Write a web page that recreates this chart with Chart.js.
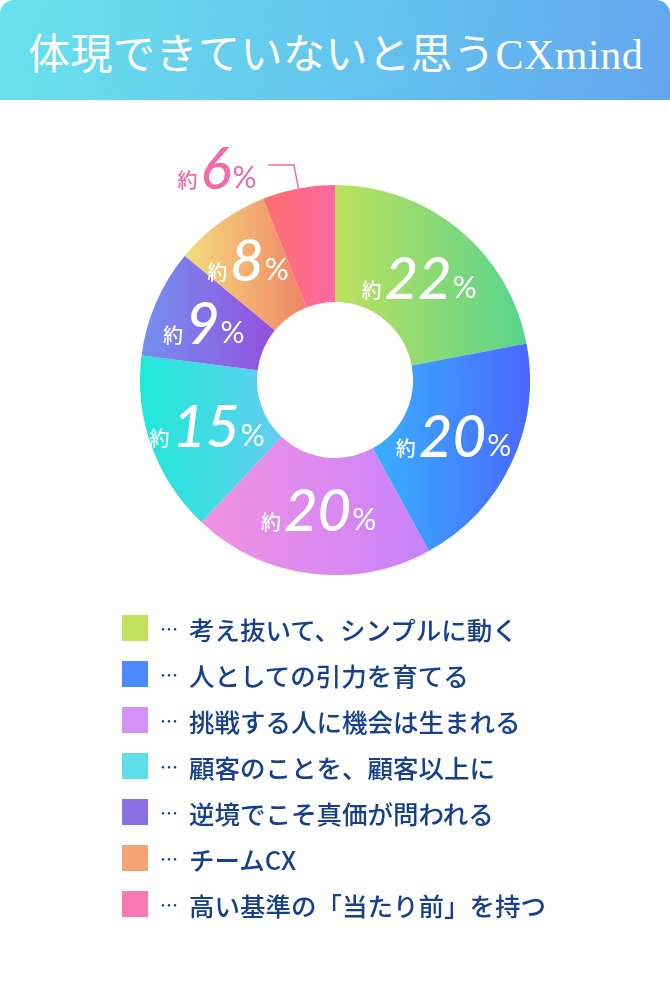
<!DOCTYPE html>
<html lang="ja">
<head>
<meta charset="utf-8">
<script src="https://cdn.jsdelivr.net/npm/chart.js@4.4.0/dist/chart.umd.min.js"></script>
<style>
  html, body { margin: 0; padding: 0; background: #fff; }
  body { width: 670px; height: 982px; position: relative; overflow: hidden; }
  .head {
    position: absolute; left: 0; top: 0; width: 670px; height: 100px;
    border-radius: 14px 14px 0 0;
    background: linear-gradient(100deg, #68e2ec 0%, #64c6ee 50%, #62a6ef 100%);
  }
  .head h1 {
    margin: 0; position: absolute; left: 28px; top: 30px;
    font-family: "Liberation Serif", "Noto Sans CJK JP", serif;
    font-weight: 400; font-size: 42px; line-height: 50px; color: #fff;
    letter-spacing: 0.5px;
  }
  #wrap { position: absolute; left: 0; top: 130px; width: 670px; height: 500px; }
  #legend { position: absolute; left: 122px; top: 605px; margin: 0; padding: 0; list-style: none; }
  #legend li {
    height: 46px; display: flex; align-items: center;
    font-family: "Noto Sans CJK JP", sans-serif; font-weight: 500;
    font-size: 25.5px; color: #17408b; white-space: nowrap;
  }
  #legend i { display: inline-block; width: 26px; height: 26px; margin-right: 12px; }
  #legend .dots { font-size: 18px; margin-right: 10px; letter-spacing: 1px; }
</style>
</head>
<body>
<div class="head"><h1>体現できていないと思うCXmind</h1></div>
<div id="wrap"><canvas id="myChart"></canvas></div>
<ul id="legend"></ul>
<script>
// データ
var categories = ["考え抜いて、シンプルに動く", "人としての引力を育てる", "挑戦する人に機会は生まれる",
                  "顧客のことを、顧客以上に", "逆境でこそ真価が問われる", "チームCX", "高い基準の「当たり前」を持つ"];
var values = [22, 20, 20, 15, 9, 8, 6];
var legendColors = ["#c3e05a", "#4d8aff", "#d492f6", "#5fdde8", "#8870e2", "#f5a274", "#f879b2"];
var gradFrom = ["#bde05e", "#38b0ff", "#f292e2", "#1ee9d8", "#7490f0", "#f6dc7c", "#ff6f6c"];
var gradTo   = ["#58d48c", "#4a68ff", "#c882fb", "#64cdf0", "#9450de", "#ef8466", "#fc68a2"];
var outsideColor = "#f26aa8";

// ラベルの中心半径（内径からの距離）
var labelOffset = [54, 53, 53, 58, 65, 70];

var total = values.reduce(function(a, b) { return a + b; }, 0);

// 横方向グラデーション
function sliceGradient(c) {
  var chart = c.chart, area = chart.chartArea, i = c.dataIndex;
  if (!area) return legendColors[i];
  var cx = (area.left + area.right) / 2, cy = (area.top + area.bottom) / 2;
  var r = Math.min(area.right - area.left, area.bottom - area.top) / 2, rin = r * 0.4;
  var before = 0;
  for (var k = 0; k < i; k++) before += values[k];
  var a0 = -Math.PI / 2 + before / total * 2 * Math.PI;
  var a1 = a0 + values[i] / total * 2 * Math.PI;
  var minX = Infinity, maxX = -Infinity;
  for (var s = 0; s <= 40; s++) {
    var a = a0 + (a1 - a0) * s / 40;
    [r, rin].forEach(function(rr) {
      var x = cx + rr * Math.cos(a);
      if (x < minX) minX = x;
      if (x > maxX) maxX = x;
    });
  }
  var g = chart.ctx.createLinearGradient(minX, cy, maxX, cy);
  g.addColorStop(0, gradFrom[i]);
  g.addColorStop(1, gradTo[i]);
  return g;
}

function drawLabel(ctx, value, cx, cy, color) {
  var f1 = '500 20px "Noto Sans CJK JP"', f2 = 'italic 500 58px Lato', f3 = '400 30px Lato';
  ctx.font = f1; var w1 = ctx.measureText("約").width;
  ctx.font = f2; var w2 = ctx.measureText(String(value)).width;
  ctx.font = f3; var w3 = ctx.measureText("%").width;
  var x = cx - (w1 + 3 + w2 + 1 + w3) / 2, base = cy + 21;
  ctx.fillStyle = color;
  ctx.textAlign = "left"; ctx.textBaseline = "alphabetic";
  ctx.font = f1; ctx.fillText("約", x, base - 1);
  ctx.font = f2; ctx.fillText(String(value), x + w1 + 3, base);
  ctx.font = f3; ctx.fillText("%", x + w1 + 3 + w2 + 1, base - 1);
}

var labelPlugin = {
  id: "sliceLabels",
  afterDatasetsDraw: function(chart) {
    var ctx = chart.ctx;
    var meta = chart.getDatasetMeta(0);
    ctx.save();
    meta.data.forEach(function(arc, i) {
      var p = arc.getProps(["x", "y", "startAngle", "endAngle", "outerRadius", "innerRadius"], true);
      var mid = (p.startAngle + p.endAngle) / 2;
      if (i === values.length - 1) {
        // 外側ラベル + 引き出し線
        var r1 = p.outerRadius - 18, r2 = p.outerRadius + 24;
        var x1 = p.x + r1 * Math.cos(mid), y1 = p.y + r1 * Math.sin(mid);
        var x2 = p.x + r2 * Math.cos(mid), y2 = p.y + r2 * Math.sin(mid);
        ctx.strokeStyle = outsideColor; ctx.lineWidth = 1.5;
        ctx.beginPath(); ctx.moveTo(x1, y1); ctx.lineTo(x2, y2); ctx.lineTo(x2 - 26, y2); ctx.stroke();
        drawLabel(ctx, values[i], x2 - 77, y2 + 3, outsideColor);
      } else {
        var rm = p.innerRadius + labelOffset[i];
        drawLabel(ctx, values[i], p.x + rm * Math.cos(mid), p.y + rm * Math.sin(mid), "#fff");
      }
    });
    ctx.restore();
  }
};

var chart = new Chart(document.getElementById("myChart"), {
  type: "doughnut",
  data: {
    labels: categories,
    datasets: [{ data: values, backgroundColor: sliceGradient, borderWidth: 0 }]
  },
  options: {
    responsive: true,
    maintainAspectRatio: false,
    animation: false,
    cutout: "40%",
    layout: { padding: { left: 140, right: 140, top: 55, bottom: 55 } },
    plugins: { legend: { display: false }, tooltip: { enabled: false } }
  },
  plugins: [labelPlugin]
});

// 凡例
var ul = document.getElementById("legend");
categories.forEach(function(name, i) {
  var li = document.createElement("li");
  li.innerHTML = '<i style="background:' + legendColors[i] + '"></i><span class="dots">…</span>' + name;
  ul.appendChild(li);
});
</script>
</body>
</html>
